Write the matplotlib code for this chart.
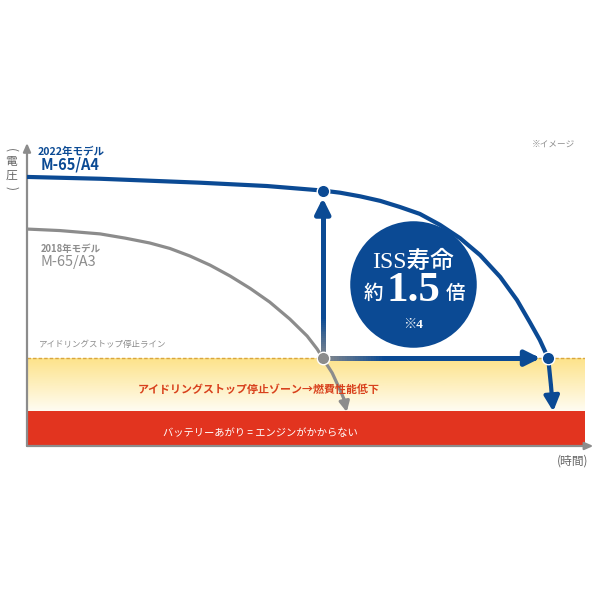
import numpy as np
import matplotlib
matplotlib.use("Agg")
import matplotlib.pyplot as plt
from matplotlib.collections import LineCollection
from matplotlib.colors import LinearSegmentedColormap, to_rgb

plt.rcParams['font.family'] = ['Noto Sans CJK JP', 'DejaVu Sans']

# --- data (time 0..100, voltage 0..100) ---
blue_t = [0, 13.1, 31.0, 43.0, 53.0, 56.1, 59.7, 63.3, 66.8, 70.4, 74.0, 77.6,
          81.2, 84.8, 87.8, 90.1, 91.9, 93.4]
blue_v = [88.8, 88.2, 86.9, 85.8, 84.3, 83.6, 82.4, 80.9, 78.9, 76.6, 73.0, 68.6,
          63.0, 55.8, 48.2, 40.9, 35.0, 29.0]
blue_tail_t = [93.4, 93.9]
blue_tail_v = [29.0, 20.0]
blue_drop = (94.3, 11.4)

gray_t = [0, 5.9, 13.1, 17.6, 22.0, 25.6, 29.2, 32.8, 36.4, 40.0, 43.5, 47.1,
          50.2, 52.0, 53.0]
gray_v = [71.6, 71.1, 70.0, 68.6, 67.0, 65.2, 62.7, 59.7, 56.1, 52.0, 47.5, 41.9,
          36.3, 32.0, 29.0]
gray_tail_t = [53.0, 54.7, 56.1, 56.8]
gray_tail_v = [29.0, 24.1, 18.5, 15.5]
gray_drop = (57.3, 11.2)

stop_line = 29.0                   # idling stop line
dead_level = 11.6                  # battery dead zone top
up_arrow_tip = 81.8
right_arrow_tip = 92.0

circle_center = (69.2, 53.5)

label_new = ['2022年モデル', 'M-65/A4']
label_old = ['2018年モデル', 'M-65/A3']
zone_text = 'アイドリングストップ停止ゾーン→燃費性能低下'
dead_text = 'バッテリーあがり = エンジンがかからない'
line_text = 'アイドリングストップ停止ライン'

BLUE = '#0b4a94'
GRAY = '#8c8c8c'
RED = '#e2341f'
ZONE_RED = '#d8401c'

W = H = 600


def px(x, y):
    """pixel position (top-left origin) -> figure fraction."""
    return x / W, 1 - y / H


fig = plt.figure(figsize=(6, 6), dpi=100)
ax = fig.add_axes([27 / W, (H - 446) / H, 558 / W, 303 / H])
ax.set_xlim(0, 100)
ax.set_ylim(0, 100)
ax.axis('off')

# zones
ax.axhspan(0, dead_level, color=RED, zorder=1, lw=0)
cmap = LinearSegmentedColormap.from_list('zone', ['#fffcf2', '#fde38a'])
grad = np.linspace(0, 1, 100).reshape(-1, 1)
ax.imshow(grad, extent=[0, 100, dead_level, stop_line], aspect='auto',
          cmap=cmap, origin='lower', zorder=1)
ax.plot([0, 100], [stop_line, stop_line], color='#d9a640', lw=1,
        ls=(0, (2.5, 1.5)), zorder=2)

# axes arrows
head = '-|>,head_length=0.5,head_width=0.22'
ax.annotate('', xy=(101.5, 0), xytext=(0, 0),
            arrowprops=dict(arrowstyle=head, color=GRAY, lw=1.6, shrinkA=0, shrinkB=0),
            annotation_clip=False, zorder=3)
ax.annotate('', xy=(0, 100), xytext=(0, 0),
            arrowprops=dict(arrowstyle=head, color=GRAY, lw=1.6, shrinkA=0, shrinkB=0),
            annotation_clip=False, zorder=3)

# curves
ax.plot(gray_t + gray_tail_t[1:], gray_v + gray_tail_v[1:], color=GRAY, lw=2.3,
        solid_capstyle='butt', solid_joinstyle='round', zorder=4)
ax.annotate('', xy=gray_drop, xytext=(gray_tail_t[-1], gray_tail_v[-1]),
            arrowprops=dict(arrowstyle='-|>,head_length=0.6,head_width=0.3',
                            color=GRAY, lw=2.3, shrinkA=0, shrinkB=0), zorder=4)
ax.plot(blue_t + blue_tail_t[1:], blue_v + blue_tail_v[1:], color=BLUE, lw=3.0,
        solid_capstyle='butt', solid_joinstyle='round', zorder=4)
ax.annotate('', xy=blue_drop, xytext=(blue_tail_t[-1], blue_tail_v[-1]),
            arrowprops=dict(arrowstyle='-|>,head_length=0.9,head_width=0.45',
                            color=BLUE, lw=3.0, shrinkA=0, shrinkB=0), zorder=4)


def grad_line(xs, ys, fade):
    """line from gray to blue, fade = fraction of the length used for the blend."""
    pts = np.column_stack([xs, ys]).reshape(-1, 1, 2)
    segs = np.concatenate([pts[:-1], pts[1:]], axis=1)
    f = np.clip(np.linspace(0, 1, len(segs)) / fade, 0, 1)
    g, b = np.array(to_rgb(GRAY)), np.array(to_rgb(BLUE))
    cols = g[None, :] * (1 - f[:, None]) + b[None, :] * f[:, None]
    ax.add_collection(LineCollection(segs, colors=cols, lw=3.6, capstyle='projecting',
                                     antialiased=False, zorder=5))


n = 80
x0 = blue_t[4]
grad_line(np.full(n, x0), np.linspace(stop_line, up_arrow_tip - 3, n), 0.28)
ax.annotate('', xy=(x0, up_arrow_tip), xytext=(x0, up_arrow_tip - 4),
            arrowprops=dict(arrowstyle='-|>,head_length=0.9,head_width=0.45',
                            color=BLUE, lw=3.6, shrinkA=0, shrinkB=0), zorder=5)
grad_line(np.linspace(x0, right_arrow_tip - 1.5, n), np.full(n, stop_line), 0.3)
ax.annotate('', xy=(right_arrow_tip, stop_line), xytext=(right_arrow_tip - 2, stop_line),
            arrowprops=dict(arrowstyle='-|>,head_length=0.9,head_width=0.45',
                            color=BLUE, lw=3.6, shrinkA=0, shrinkB=0), zorder=5)

# dots
ax.plot([x0], [stop_line], 'o', ms=9, color=GRAY, mec='white', mew=1, zorder=6)
ax.plot([x0], [blue_v[4]], 'o', ms=9, color=BLUE, mec='white', mew=1, zorder=6)
ax.plot([blue_t[-1]], [blue_v[-1]], 'o', ms=9, color=BLUE, mec='white', mew=1, zorder=6)

# badge circle
ax.scatter([circle_center[0]], [circle_center[1]], s=8300, color=BLUE, lw=0, zorder=6)
serif = ['Liberation Serif', 'Noto Sans CJK JP']
fig.text(*px(413, 262), 'ISS寿命', color='white', fontsize=17, family=serif,
         ha='center', va='center', fontweight='medium', zorder=10)
fig.text(*px(373, 294), '約', color='white', fontsize=14, family=serif,
         ha='center', va='center', fontweight='medium', zorder=10)
fig.text(*px(413, 291), '1.5', color='white', fontsize=31, family=serif,
         ha='center', va='center', fontweight='bold', zorder=10)
fig.text(*px(455, 294), '倍', color='white', fontsize=14, family=serif,
         ha='center', va='center', fontweight='medium', zorder=10)
fig.text(*px(413, 325), '※4', color='white', fontsize=9.5, family=serif,
         ha='center', va='center', fontweight='bold', zorder=10)

# labels
fig.text(*px(38, 152), label_new[0], color=BLUE, fontsize=7.6, fontweight='bold',
         ha='left', va='center')
fig.text(*px(41, 164), label_new[1], color=BLUE, fontsize=10.5, fontweight='bold',
         ha='left', va='center')
fig.text(*px(41, 249), label_old[0], color=GRAY, fontsize=6.8, fontweight='bold',
         ha='left', va='center')
fig.text(*px(41, 262), label_old[1], color=GRAY, fontsize=10.5,
         ha='left', va='center')
fig.text(*px(39, 344), line_text, color=GRAY, fontsize=6.1, ha='left', va='center')
fig.text(*px(575, 144), '※イメージ', color=GRAY, fontsize=6.2, ha='right', va='center')
fig.text(*px(259, 389), zone_text, color=ZONE_RED, fontsize=7.9, fontweight='bold',
         ha='center', va='center')
fig.text(*px(260, 433), dead_text, color='white', fontsize=7.4,
         ha='center', va='center')
fig.text(*px(588, 461), '(時間)', color='#666666', fontsize=8.5, ha='right', va='center')

# vertical axis label
for ch, y, rot in [('(', 150, -90), ('電', 162, 0), ('圧', 175, 0), (')', 188, -90)]:
    fig.text(*px(11, y), ch, color='#666666', fontsize=8.5, rotation=rot,
             ha='center', va='center')

fig.savefig('out.png', dpi=100, facecolor='white')
